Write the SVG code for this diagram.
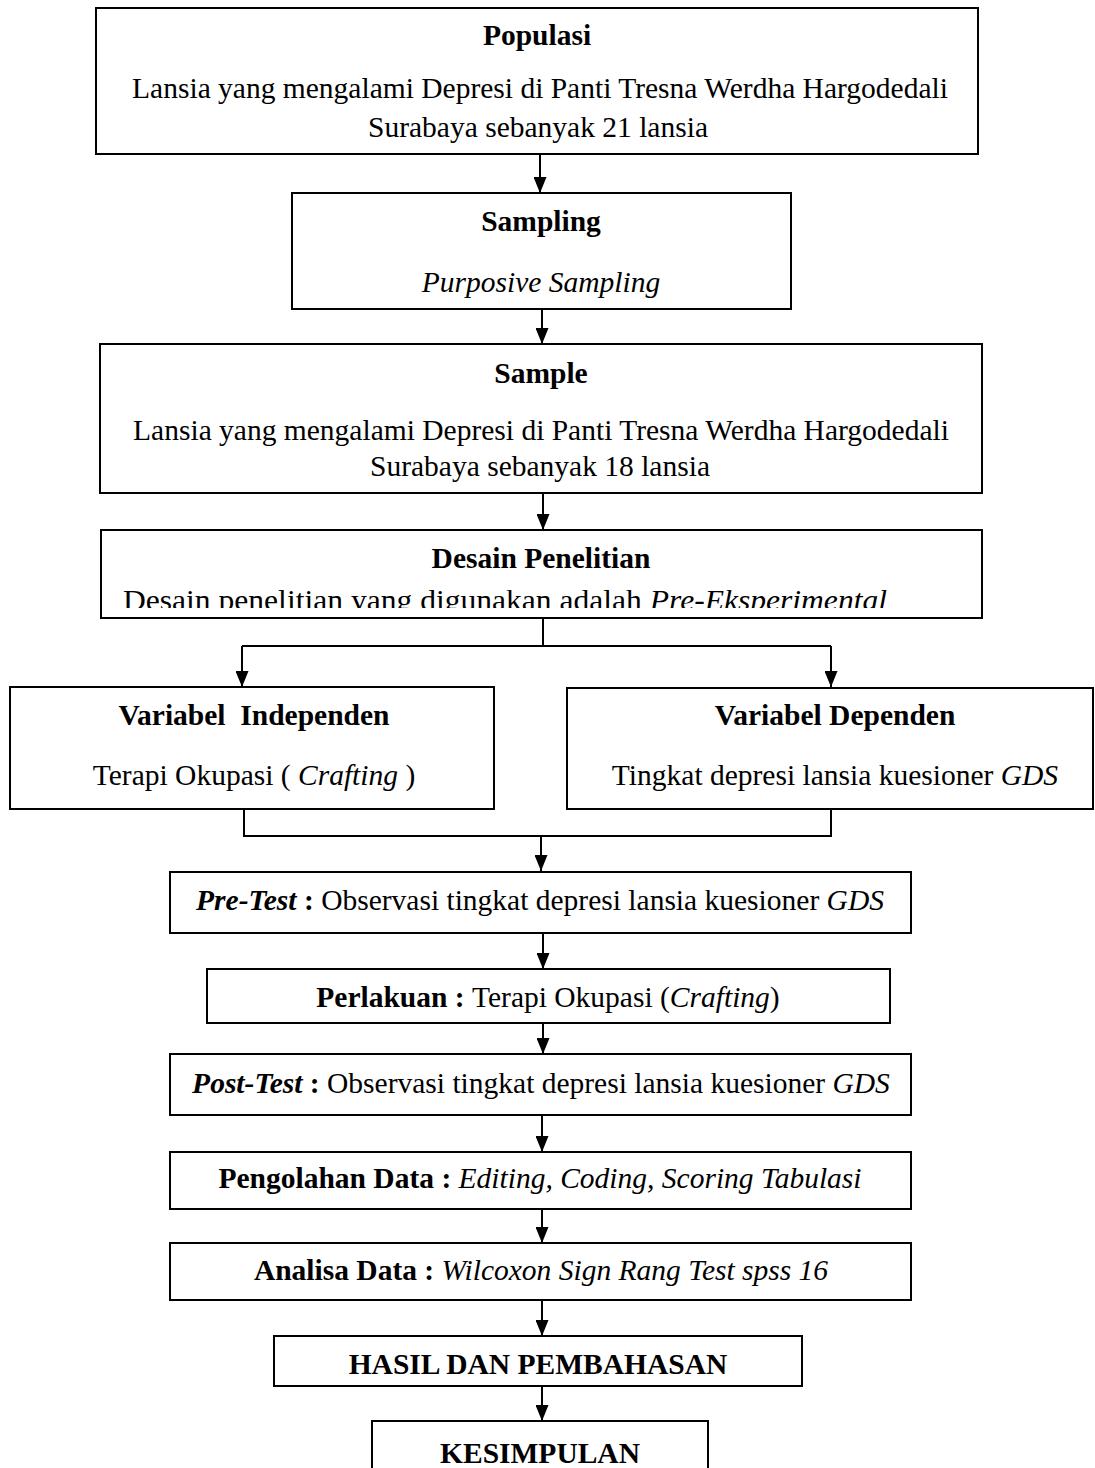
<svg xmlns="http://www.w3.org/2000/svg" width="1095" height="1468" viewBox="0 0 1095 1468">
<style>
.box{fill:#fff;stroke:#000;stroke-width:2}
.ln{fill:none;stroke:#000;stroke-width:2}
.ar{fill:none;stroke:#000;stroke-width:2;marker-end:url(#ah)}
text{font-family:"Liberation Serif","Times New Roman",serif;font-size:29.5px;fill:#000;text-anchor:middle}
.b{font-weight:bold}
.i{font-style:italic}
.bi{font-weight:bold;font-style:italic}
</style>
<defs>
<marker id="ah" viewBox="0 0 16 13" refX="16" refY="6.5" markerWidth="16" markerHeight="13" markerUnits="userSpaceOnUse" orient="auto">
<path d="M0,0 L16,6.5 L0,13 z" fill="#000"/>
</marker>
<clipPath id="clipDesain"><rect x="101" y="531" width="881" height="77"/></clipPath>
</defs>
<rect width="1095" height="1468" fill="#fff"/>

<g id="connectors">
<line class="ar" x1="540" y1="154" x2="540" y2="193"/>
<line class="ar" x1="542" y1="309" x2="542" y2="344"/>
<line class="ar" x1="543" y1="493" x2="543" y2="530"/>
<polyline class="ln" points="543,618 543,646"/>
<polyline class="ln" points="242,646 831,646"/>
<line class="ar" x1="242" y1="646" x2="242" y2="687"/>
<line class="ar" x1="831" y1="646" x2="831" y2="687"/>
<polyline class="ln" points="244,809 244,836 831,836 831,809"/>
<line class="ar" x1="541" y1="836" x2="541" y2="871"/>
<line class="ar" x1="543" y1="933" x2="543" y2="969"/>
<line class="ar" x1="543" y1="1023" x2="543" y2="1054"/>
<line class="ar" x1="542" y1="1115" x2="542" y2="1152"/>
<line class="ar" x1="542" y1="1209" x2="542" y2="1243"/>
<line class="ar" x1="542" y1="1300" x2="542" y2="1336"/>
<line class="ar" x1="542" y1="1386" x2="542" y2="1421"/>
</g>

<g id="populasi">
<rect class="box" x="96" y="8" width="882" height="146"/>
<text class="b" x="537" y="45">Populasi</text>
<text x="540" y="98">Lansia yang mengalami Depresi di Panti Tresna Werdha Hargodedali</text>
<text x="538" y="137">Surabaya sebanyak 21 lansia</text>
</g>

<g id="sampling">
<rect class="box" x="292" y="193" width="499" height="116"/>
<text class="b" x="541" y="231">Sampling</text>
<text class="i" x="541" y="292">Purposive Sampling</text>
</g>

<g id="sample">
<rect class="box" x="100" y="344" width="882" height="149"/>
<text class="b" x="541" y="383">Sample</text>
<text x="541" y="440">Lansia yang mengalami Depresi di Panti Tresna Werdha Hargodedali</text>
<text x="540" y="476">Surabaya sebanyak 18 lansia</text>
</g>

<g id="desain">
<rect class="box" x="101" y="530" width="881" height="88"/>
<text class="b" x="541" y="568">Desain Penelitian</text>
<g clip-path="url(#clipDesain)">
<text style="text-anchor:start" x="123" y="610" textLength="764" lengthAdjust="spacingAndGlyphs">Desain penelitian yang digunakan adalah <tspan class="i">Pre-Eksperimental</tspan></text>
</g>
</g>

<g id="var-independen">
<rect class="box" x="10" y="687" width="484" height="122"/>
<text class="b" style="white-space:pre" x="254" y="725">Variabel  Independen</text>
<text x="254" y="785">Terapi Okupasi ( <tspan class="i">Crafting</tspan> )</text>
</g>

<g id="var-dependen">
<rect class="box" x="567" y="688" width="526" height="121"/>
<text class="b" x="835" y="725">Variabel Dependen</text>
<text x="835" y="785">Tingkat depresi lansia kuesioner <tspan class="i">GDS</tspan></text>
</g>

<g id="pretest">
<rect class="box" x="170" y="872" width="741" height="61"/>
<text x="540" y="910"><tspan class="bi">Pre-Test</tspan><tspan class="b"> : </tspan>Observasi tingkat depresi lansia kuesioner <tspan class="i">GDS</tspan></text>
</g>

<g id="perlakuan">
<rect class="box" x="207" y="969" width="683" height="54"/>
<text x="548" y="1007"><tspan class="b">Perlakuan : </tspan>Terapi Okupasi (<tspan class="i">Crafting</tspan>)</text>
</g>

<g id="posttest">
<rect class="box" x="170" y="1054" width="741" height="61"/>
<text x="541" y="1093"><tspan class="bi">Post-Test</tspan><tspan class="b"> : </tspan>Observasi tingkat depresi lansia kuesioner <tspan class="i">GDS</tspan></text>
</g>

<g id="pengolahan">
<rect class="box" x="170" y="1152" width="741" height="57"/>
<text x="540" y="1188"><tspan class="b">Pengolahan Data : </tspan><tspan class="i">Editing, Coding, Scoring Tabulasi</tspan></text>
</g>

<g id="analisa">
<rect class="box" x="170" y="1243" width="741" height="57"/>
<text x="541" y="1280"><tspan class="b">Analisa Data : </tspan><tspan class="i">Wilcoxon Sign Rang Test spss 16</tspan></text>
</g>

<g id="hasil">
<rect class="box" x="274" y="1336" width="528" height="50"/>
<text class="b" x="538" y="1374">HASIL DAN PEMBAHASAN</text>
</g>

<g id="kesimpulan">
<rect class="box" x="372" y="1421" width="336" height="70"/>
<text class="b" x="540" y="1463">KESIMPULAN</text>
</g>
</svg>
